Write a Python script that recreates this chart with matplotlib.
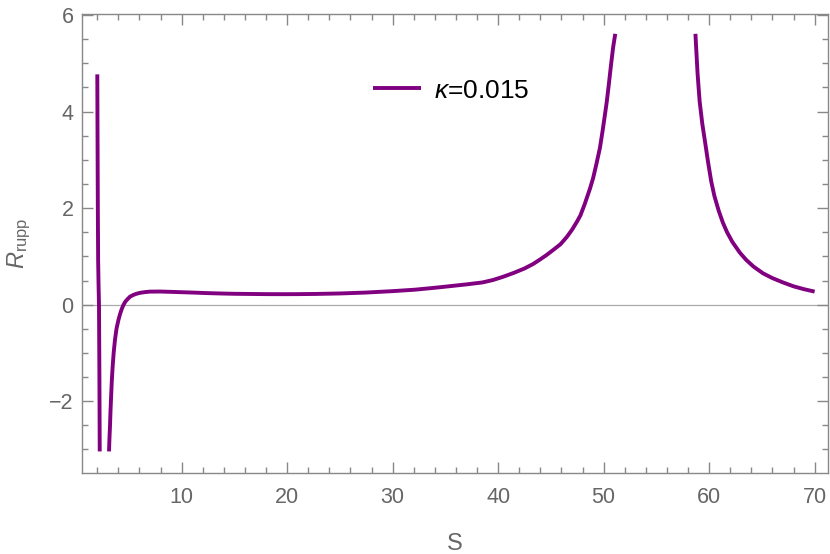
import matplotlib
matplotlib.use("Agg")
from matplotlib import pyplot as plt
from matplotlib.ticker import MultipleLocator

# Values (three branches of R_rupp vs S)
s_branch1 = [2.00, 2.02, 2.05, 2.08, 2.12, 2.16, 2.20, 2.23]
r_branch1 = [4.77, 3.60, 2.00, 0.91, 0.40, 0.00, -1.50, -3.04]

s_branch2 = [3.11, 3.15, 3.20, 3.25, 3.30, 3.37, 3.45, 3.55, 3.68, 3.82, 4.00,
             4.15, 4.30, 4.47, 4.65, 4.85, 5.10, 5.40, 5.70, 6.05, 6.50, 7.00,
             7.94, 9.00, 10.0, 11.1, 12.3, 13.6, 15.0, 16.35, 18.0, 19.5, 21.0,
             22.7, 25.0, 27.4, 30.0, 32.1, 34.0, 35.3, 37.0, 38.5, 39.5, 40.5,
             41.5, 42.5, 43.3, 44.0, 44.6, 45.2, 45.9, 46.5, 47.0, 47.5, 47.8,
             48.2, 48.7, 49.0, 49.3, 49.65, 49.9, 50.1, 50.3, 50.5, 50.7, 50.9,
             51.1]
r_branch2 = [-3.04, -2.78, -2.53, -2.22, -1.95, -1.60, -1.30, -1.00, -0.72, -0.50, -0.32,
             -0.20, -0.10, -0.01, 0.06, 0.11, 0.165, 0.20, 0.225, 0.245, 0.26, 0.27,
             0.272, 0.265, 0.258, 0.25, 0.24, 0.232, 0.225, 0.222, 0.218, 0.217, 0.218,
             0.222, 0.232, 0.25, 0.28, 0.31, 0.35, 0.38, 0.42, 0.46, 0.51, 0.58,
             0.66, 0.75, 0.84, 0.94, 1.03, 1.13, 1.25, 1.40, 1.55, 1.73, 1.85,
             2.08, 2.40, 2.62, 2.90, 3.25, 3.60, 3.90, 4.21, 4.58, 4.97, 5.33,
             5.61]

s_branch3 = [58.7, 58.8, 58.9, 59.0, 59.1, 59.35, 59.6, 59.9, 60.2, 60.5, 60.9,
             61.3, 61.7, 62.2, 62.9, 63.5, 64.2, 65.1, 66.0, 67.0, 68.0, 69.0, 70.0]
r_branch3 = [5.61, 5.20, 4.80, 4.50, 4.21, 3.75, 3.39, 2.95, 2.55, 2.25, 1.95,
             1.70, 1.50, 1.30, 1.08, 0.93, 0.79, 0.65, 0.55, 0.46, 0.38, 0.32, 0.27]

legend_label = r"$\kappa$=0.015"
line_color = "#800080"

plt.rcParams["font.family"] = ["Liberation Sans", "DejaVu Sans"]
plt.rcParams["mathtext.fontset"] = "custom"
plt.rcParams["mathtext.rm"] = "Liberation Sans"
plt.rcParams["mathtext.it"] = "Liberation Sans:italic"

fig = plt.figure(figsize=(8.3, 5.54), dpi=100)
ax = fig.add_axes([0.0988, 0.1468, 0.8992, 0.8279])

ax.axhline(0, color="#aaaaaa", linewidth=0.9, zorder=1)
ax.plot(s_branch1, r_branch1, color=line_color, linewidth=2.8, label=legend_label,
        solid_capstyle="butt")
ax.plot(s_branch2, r_branch2, color=line_color, linewidth=2.8, solid_capstyle="butt")
ax.plot(s_branch3, r_branch3, color=line_color, linewidth=2.8, solid_capstyle="butt")

ax.set_xlim(0.55, 71.3)
ax.set_ylim(-3.48, 6.02)

# Mathematica style frame: ticks inside on all four sides
ax.xaxis.set_major_locator(MultipleLocator(10))
ax.xaxis.set_minor_locator(MultipleLocator(2))
ax.yaxis.set_major_locator(MultipleLocator(2))
ax.yaxis.set_minor_locator(MultipleLocator(0.5))
ax.tick_params(which="both", direction="in", top=True, right=True,
               color="#888888", width=1.0)
ax.tick_params(which="major", length=8)
ax.tick_params(which="minor", length=4.5)
ax.tick_params(axis="x", which="major", labelsize=15.5, labelcolor="#666666", pad=10.5)
ax.tick_params(axis="y", which="major", labelsize=15.5, labelcolor="#666666", pad=6)
for sp in ax.spines.values():
    sp.set_color("#888888")
    sp.set_linewidth(1.0)

ax.set_xlabel("S", fontsize=17, color="#666666", labelpad=18)
ax.set_ylabel(r"$R_{\mathrm{rupp}}$", fontsize=17, color="#666666", labelpad=12)

ax.legend(loc="center left", bbox_to_anchor=(0.39, 0.833), frameon=False,
          fontsize=19, handlelength=1.8, handletextpad=0.5, borderpad=0,
          borderaxespad=0)

fig.savefig("out.png", dpi=100)
